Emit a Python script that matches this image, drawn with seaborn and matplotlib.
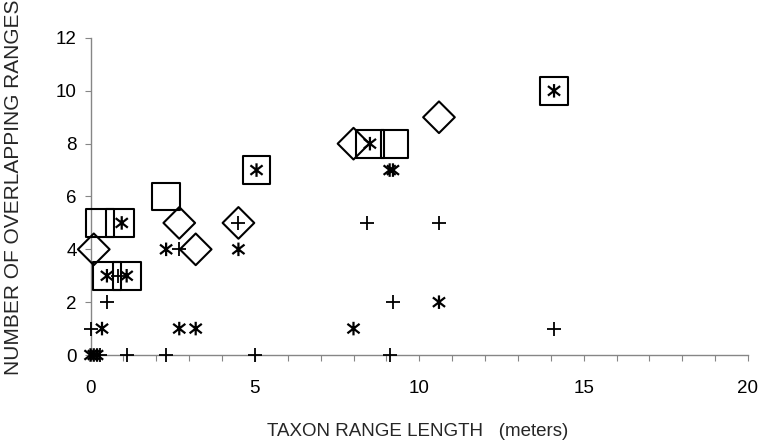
import numpy as np
import pandas as pd
import seaborn as sns
import matplotlib
matplotlib.use("Agg")
import matplotlib.pyplot as plt
from matplotlib.path import Path
from matplotlib.ticker import MultipleLocator, FuncFormatter

# data: taxon range length (m) vs number of overlapping ranges
plus_x = [0.0, 0.3, 0.5, 0.85, 1.1, 2.3, 2.7, 4.5, 5.0, 8.4, 9.1, 9.2, 10.6, 14.1]
plus_y = [1, 0, 2, 3, 0, 0, 4, 5, 0, 5, 0, 2, 5, 1]

star_x = [0.0, 0.1, 0.2, 0.35, 0.5, 1.1, 0.95, 2.3, 2.7, 3.2, 4.5, 5.05, 8.0, 8.5, 9.1, 9.2, 10.6, 14.1]
star_y = [0, 0, 0, 1, 3, 3, 5, 4, 1, 1, 4, 7, 1, 8, 7, 7, 2, 10]

diamond_x = [0.1, 2.7, 3.2, 4.5, 8.0, 10.6]
diamond_y = [4, 5, 4, 5, 8, 9]

square_x = [0.3, 0.9, 0.5, 1.1, 2.3, 5.05, 8.5, 9.25, 14.1]
square_y = [5, 5, 3, 3, 6, 7, 8, 8, 10]

x_ticks = [0, 5, 10, 15, 20]
y_ticks = [0, 2, 4, 6, 8, 10, 12]

sns.set_style("ticks")
plt.rcParams['font.family'] = ['Liberation Sans', 'DejaVu Sans']

fig = plt.figure(figsize=(7.59, 4.46), dpi=100)
ax = fig.add_axes([90.5 / 759, 1 - 355 / 446, 657.5 / 759, 317 / 446])

# excel style asterisk: vertical bar plus a wide X
star = Path([(0, -1), (0, 1), (-0.9, -0.7), (0.9, 0.7), (-0.9, 0.7), (0.9, -0.7)],
            [Path.MOVETO, Path.LINETO] * 3)

sns.scatterplot(x=square_x, y=square_y, marker='s', s=400, facecolor='none',
                edgecolor='black', linewidth=1.5, ax=ax, clip_on=False, zorder=3)
sns.scatterplot(x=diamond_x, y=diamond_y, marker='D', s=260, facecolor='none',
                edgecolor='black', linewidth=1.5, ax=ax, clip_on=False, zorder=3)
sns.scatterplot(x=star_x, y=star_y, marker=star, s=95, facecolor='none',
                edgecolor='black', linewidth=1.6, ax=ax, clip_on=False, zorder=4)
sns.scatterplot(x=plus_x, y=plus_y, marker='+', s=95, color='black',
                linewidth=1.3, ax=ax, clip_on=False, zorder=4)

ax.set_xlim(0, 20)
ax.set_ylim(0, 12)
ax.xaxis.set_major_locator(MultipleLocator(5))
ax.xaxis.set_minor_locator(MultipleLocator(1))
ax.set_xticks(x_ticks)
ax.set_yticks(y_ticks)
ax.xaxis.set_major_formatter(FuncFormatter(lambda v, p: f"{v:.0f}"))

sns.despine(ax=ax)
for sp in ['left', 'bottom']:
    ax.spines[sp].set_color('#868686')
    ax.spines[sp].set_linewidth(1.0)
ax.tick_params(axis='both', which='both', direction='out', length=4, width=0.8,
               color='#868686', labelsize=13.5, labelcolor='black')
ax.tick_params(axis='x', pad=14)
ax.tick_params(axis='y', pad=6)

ax.set_xlabel("TAXON RANGE LENGTH   (meters)", fontsize=13.5,
              family=['Liberation Sans Narrow', 'Liberation Sans', 'DejaVu Sans'])
ax.xaxis.set_label_coords(0.497, -0.215)
ax.set_ylabel("NUMBER OF OVERLAPPING RANGES", fontsize=15)
ax.yaxis.set_label_coords(-0.102, 0.53)

fig.savefig("out.png", dpi=100)
